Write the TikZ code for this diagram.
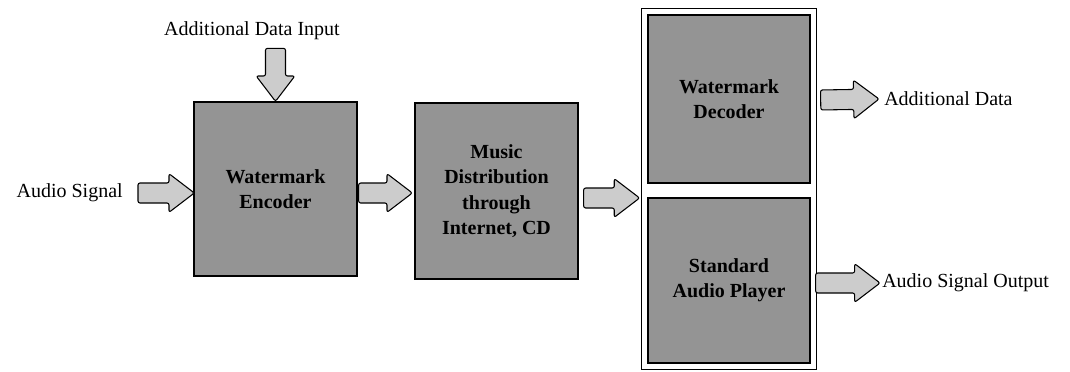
\documentclass[tikz,border=0pt]{standalone}
\usepackage{fontspec}
\setmainfont{Liberation Serif}
\usetikzlibrary{calc,positioning}
\tikzset{
	blk/.style={draw,line width=1pt,fill=black!42,font=\fontsize{15}{19}\selectfont\bfseries,align=center,inner sep=0pt},
	lbl/.style={inner sep=0pt},
	fatarr/.style={draw,line width=0.8pt,fill=black!20,line join=round,rounded corners=1.5pt},
}
\def\sw{7.5pt}
\def\hw{14.5pt}
\def\hl{19pt}
\newcommand\fatarrow[2]{%
	\draw[fatarr] let \p1=(#1),\p2=(#2),\n1={atan2(\y2-\y1,\x2-\x1)},\n2={veclen(\x2-\x1,\y2-\y1)} in
	($(\p1)+(\n1-90:\sw)$) -- ($(\p1)+(\n1-90:\sw)+(\n1:\n2-\hl)$) -- ($(\p1)+(\n1-90:\hw)+(\n1:\n2-\hl)$)
	-- (\p2) -- ($(\p1)+(\n1+90:\hw)+(\n1:\n2-\hl)$) -- ($(\p1)+(\n1+90:\sw)+(\n1:\n2-\hl)$) -- ($(\p1)+(\n1+90:\sw)$) -- cycle;}
\begin{document}
\begin{tikzpicture}[x=0.75pt,y=-0.75pt,font=\fontsize{15}{19}\selectfont]
	\useasboundingbox (0,0) rectangle (1070,371);
	\node[blk,minimum width=122.25pt,minimum height=130.5pt] (enc) at (275.5,189) {Watermark\\Encoder};
	\node[blk,minimum width=122.25pt,minimum height=132pt] (mus) at (496.5,191) {Music\\Distribution\\through\\Internet, CD};
	\node[draw,line width=0.6pt,fill=white,minimum width=131.25pt,minimum height=270.75pt] (frm) at (728.5,189) {};
	\node[blk,minimum width=121.5pt,minimum height=126pt] (dec) at (729,99) {Watermark\\Decoder};
	\node[blk,minimum width=121.5pt,minimum height=123.75pt] (ply) at (729,280.5) {Standard\\Audio Player};
	% labels
	\node[lbl] (adi) at (252,31) {Additional Data Input};
	\node[lbl,anchor=east] (ain) at (123,193) {Audio Signal};
	\node[lbl,anchor=west] (adata) at (884,99) {Additional Data};
	\node[lbl,anchor=west] (aout) at (882,283) {Audio Signal Output};
	% block arrows
	\fatarrow{$(adi.south -| enc.north)+(0,8)$}{enc.north}
	\fatarrow{$(ain.east)+(15,0)$}{$(enc.west)+(1,4)$}
	\fatarrow{$(enc.east)+(1,4)$}{$(mus.west)+(-2,2)$}
	\fatarrow{$(mus.east)+(5,7)$}{$(frm.west)+(-1,9)$}
	\fatarrow{$(dec.east)+(10,1)$}{$(adata.west)+(-5,0)$}
	\fatarrow{$(ply.east)+(5,2.5)$}{$(aout.west)+(-2,0)$}
\end{tikzpicture}
\end{document}
